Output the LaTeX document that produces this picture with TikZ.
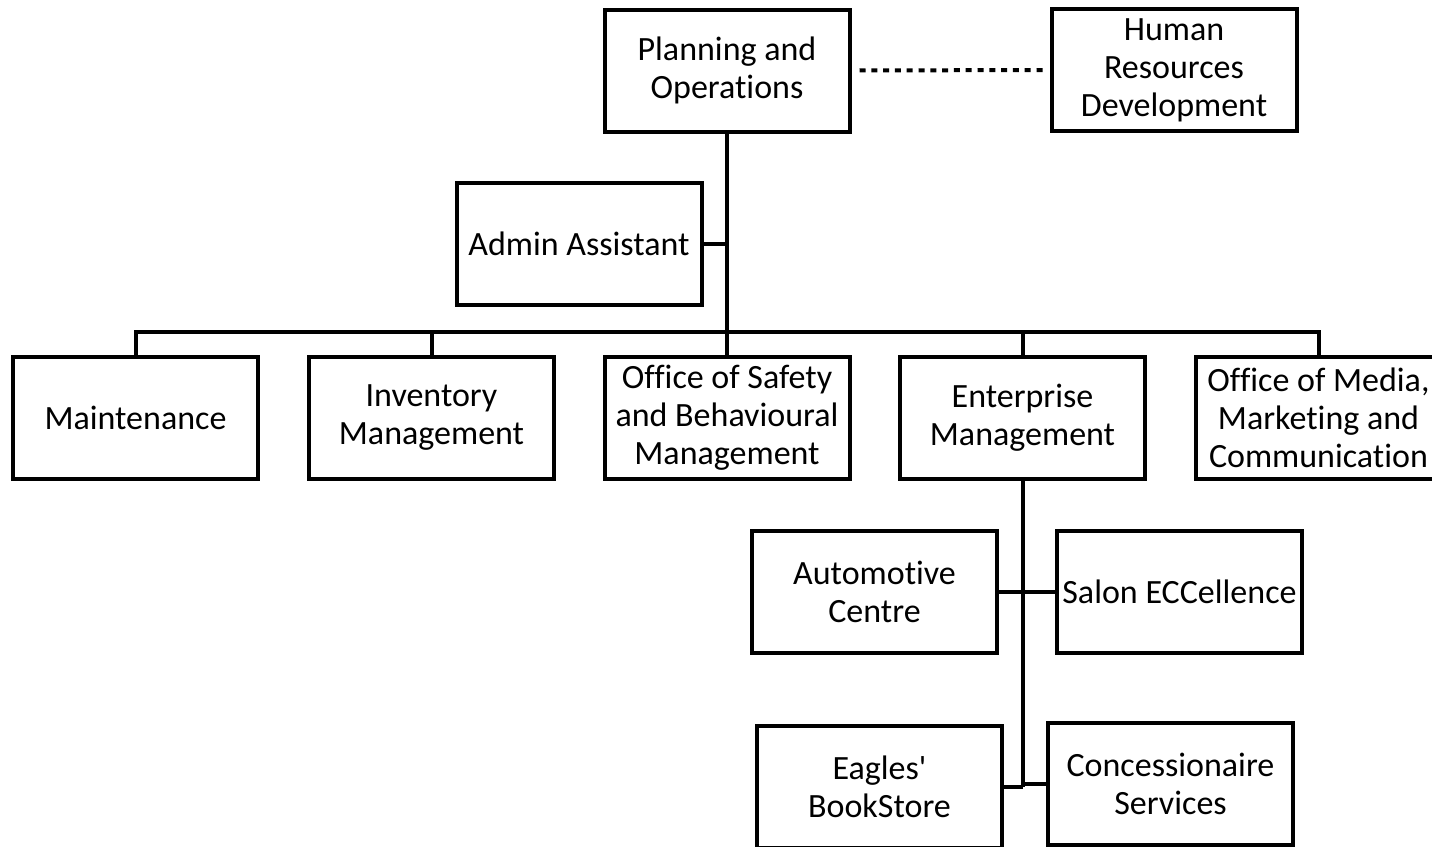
\documentclass[tikz,border=0pt]{standalone}
\usepackage{fontspec}
\setmainfont{Carlito}[Ligatures={NoCommon,NoContextual}]
\begin{document}
\begin{tikzpicture}[x=0.5pt,y=-0.5pt,
  box/.style={draw=black,line width=2pt,minimum width=122.5pt,minimum height=61pt,inner sep=0pt,align=center,font=\fontsize{17}{19}\selectfont,fill=white},
  conn/.style={line width=2pt,draw=black}]
\clip (0,0) rectangle (1432,847);
\node[box] (plan) at (727,70.5) {Planning and\\Operations};
\node[box] (hr) at (1174,70) {Human\\Resources\\Development};
\node[box] (admin) at (579,244) {Admin Assistant};
\node[box] (maint) at (135.5,418) {Maintenance};
\node[box] (inv) at (431.5,418) {Inventory\\Management};
\node[box] (safe) at (727,418) {Office of Safety\\and Behavioural\\Management};
\node[box] (ent) at (1022.5,418) {Enterprise\\Management};
\node[box] (media) at (1318.5,418) {Office of Media,\\Marketing and\\Communication};
\node[box] (auto) at (874.5,592) {Automotive\\Centre};
\node[box] (salon) at (1179.5,591.5) {Salon ECCellence};
\node[box] (eagle) at (879.5,787) {Eagles\textquotesingle\\BookStore};
\node[box] (conc) at (1170.5,784) {Concessionaire\\Services};
\coordinate (bar) at (727,332);
\coordinate (entbot) at (1022.5,787);
\draw[line width=2pt,dash pattern=on 3pt off 2.9pt,shorten <=4pt,shorten >=3pt] (plan.east) -- (hr.west);
\draw[conn] (plan.south) -- (bar);
\draw[conn] (admin.east) -- (admin.east -| plan.south);
\draw[conn,line join=miter] (maint.north) |- (bar) -| (media.north);
\draw[conn] (inv.north) -- (inv.north |- bar);
\draw[conn] (safe.north) -- (bar);
\draw[conn] (ent.north) -- (ent.north |- bar);
\draw[conn] (ent.south) -- (entbot);
\draw[conn] (auto.east) -- (auto.east -| ent.south);
\draw[conn] (salon.west) -- (salon.west -| ent.south);
\draw[conn] (eagle.east) -- (eagle.east -| ent.south);
\draw[conn] (conc.west) -- (conc.west -| ent.south);
\end{tikzpicture}
\end{document}
